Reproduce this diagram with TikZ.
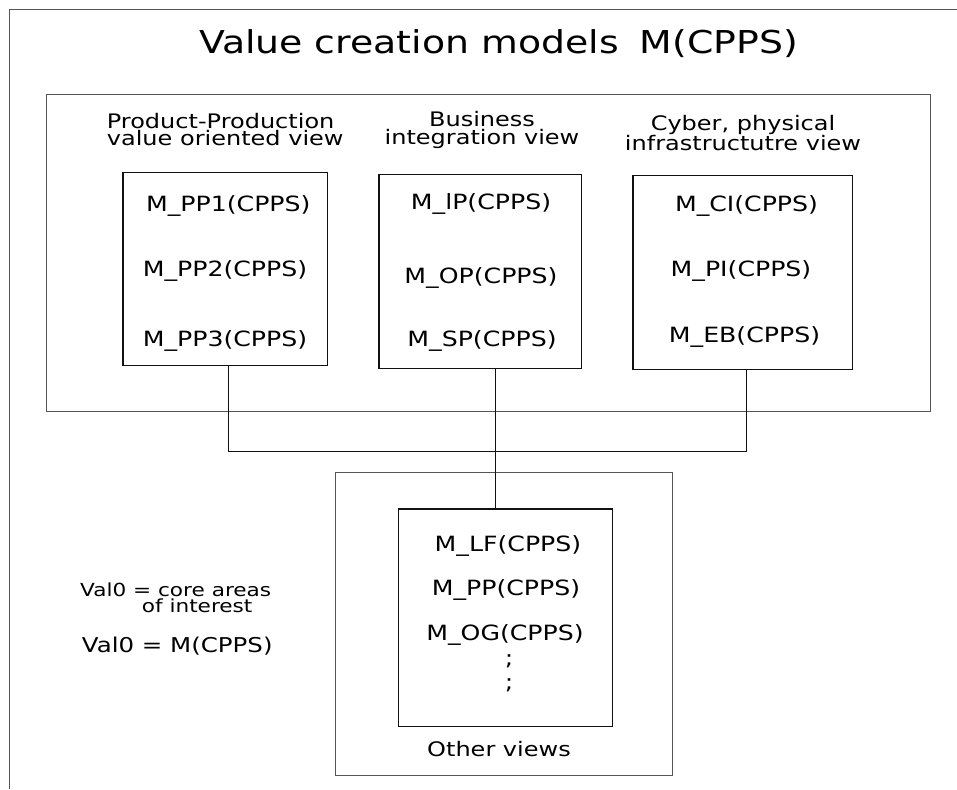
\documentclass[tikz,border=0pt]{standalone}
\usepackage{fontspec}
\setmainfont[FakeStretch=1.2]{DejaVu Sans}
\usetikzlibrary{positioning}
\definecolor{ink}{HTML}{111111}
\definecolor{edge}{HTML}{555555}

\tikzset{
  viewbox/.style={draw=edge, line width=1pt, inner sep=0pt},
  modelbox/.style={draw=ink, line width=1.1pt, inner sep=0pt},
  model/.style={font=\fontsize{21}{21}\selectfont, anchor=base, inner sep=0pt},
  heading/.style={font=\fontsize{20}{17.5}\selectfont, align=center, anchor=north, inner sep=0pt},
  note/.style={anchor=base west, inner sep=0pt},
  link/.style={draw=ink, line width=1pt},
}

\begin{document}
\begin{tikzpicture}[x=1pt, y=-1pt]
  \useasboundingbox (0,0) rectangle (957,789);
  % page frame, only its left and top edges show
  \draw[edge, line width=1pt] (9,789) -- (9,10) -- (957,10);
  \node[font=\fontsize{31.5}{31.5}\selectfont, anchor=base, inner sep=0pt] (title) at (498.5,54) {Value creation models\hspace{9pt} M(CPPS)};
  % the three views
  \node[viewbox, minimum width=884.7, minimum height=316.7] (views) at (488.35,253.35) {};
  \node[modelbox, minimum width=204.7, minimum height=193] (pp) at (225.35,269.2) {};
  \node[modelbox, minimum width=202.7, minimum height=194] (bi) at (480.35,271.3) {};
  \node[modelbox, minimum width=219.3, minimum height=194] (ci) at (742.65,272.3) {};
  \node[heading, align=left, anchor=north west] (pphead) at (106.7,112.8) {Product-Production\\value oriented view};
  \node[heading] (bihead) at (482,111.5) {Business\\integration view};
  \node[heading] (cihead) at (743,114.8) {Cyber, physical\\infrastructutre view};
  \foreach \nm/\x/\y in {PP1/228.3/211.7, PP2/225/276.7, PP3/225/346.7}
    \node[model] (m\nm) at (\x,\y) {M\_\nm(CPPS)};
  \foreach \nm/\x/\y in {lP/481/209, OP/481/283.3, SP/482/346.7}
    \node[model] (m\nm) at (\x,\y) {M\_\nm(CPPS)};
  \foreach \nm/\x/\y in {CI/746.5/211.7, PI/741/276, EB/744.5/342.7}
    \node[model] (m\nm) at (\x,\y) {M\_\nm(CPPS)};
  % other views
  \node[viewbox, minimum width=337.7, minimum height=303] (other) at (503.85,624.2) {};
  \node[modelbox, minimum width=214, minimum height=217.7] (lf) at (505.3,617.85) {};
  \foreach \nm/\x/\y in {LF/508/551.7, PP/506/595, OG/505/640}
    \node[model] (m\nm) at (\x,\y) {M\_\nm(CPPS)};
  \node[model] (dotsa) at (509,665) {;};
  \node[model] (dotsb) at (509,689) {;};
  \node[model, font=\fontsize{20}{20}\selectfont] (othername) at (499,756) {Other views};
  % notes
  \node[note, font=\fontsize{18}{18}\selectfont] (vala) at (80,596) {Val0 = core areas};
  \node[note, font=\fontsize{18}{18}\selectfont] (valb) at (141.7,612.3) {of interest};
  \node[note, font=\fontsize{20.4}{20.4}\selectfont] (valc) at (81.7,652.7) {Val0 = M(CPPS)};
  % links
  \draw[link] ([xshift=3.6pt]pp.south) -- ++(0,85) -| ([xshift=3.4pt]ci.south);
  \coordinate (drop) at ([xshift=15.6pt]bi.south);
  \draw[link] (drop) -- (drop |- lf.north);
\end{tikzpicture}
\end{document}
